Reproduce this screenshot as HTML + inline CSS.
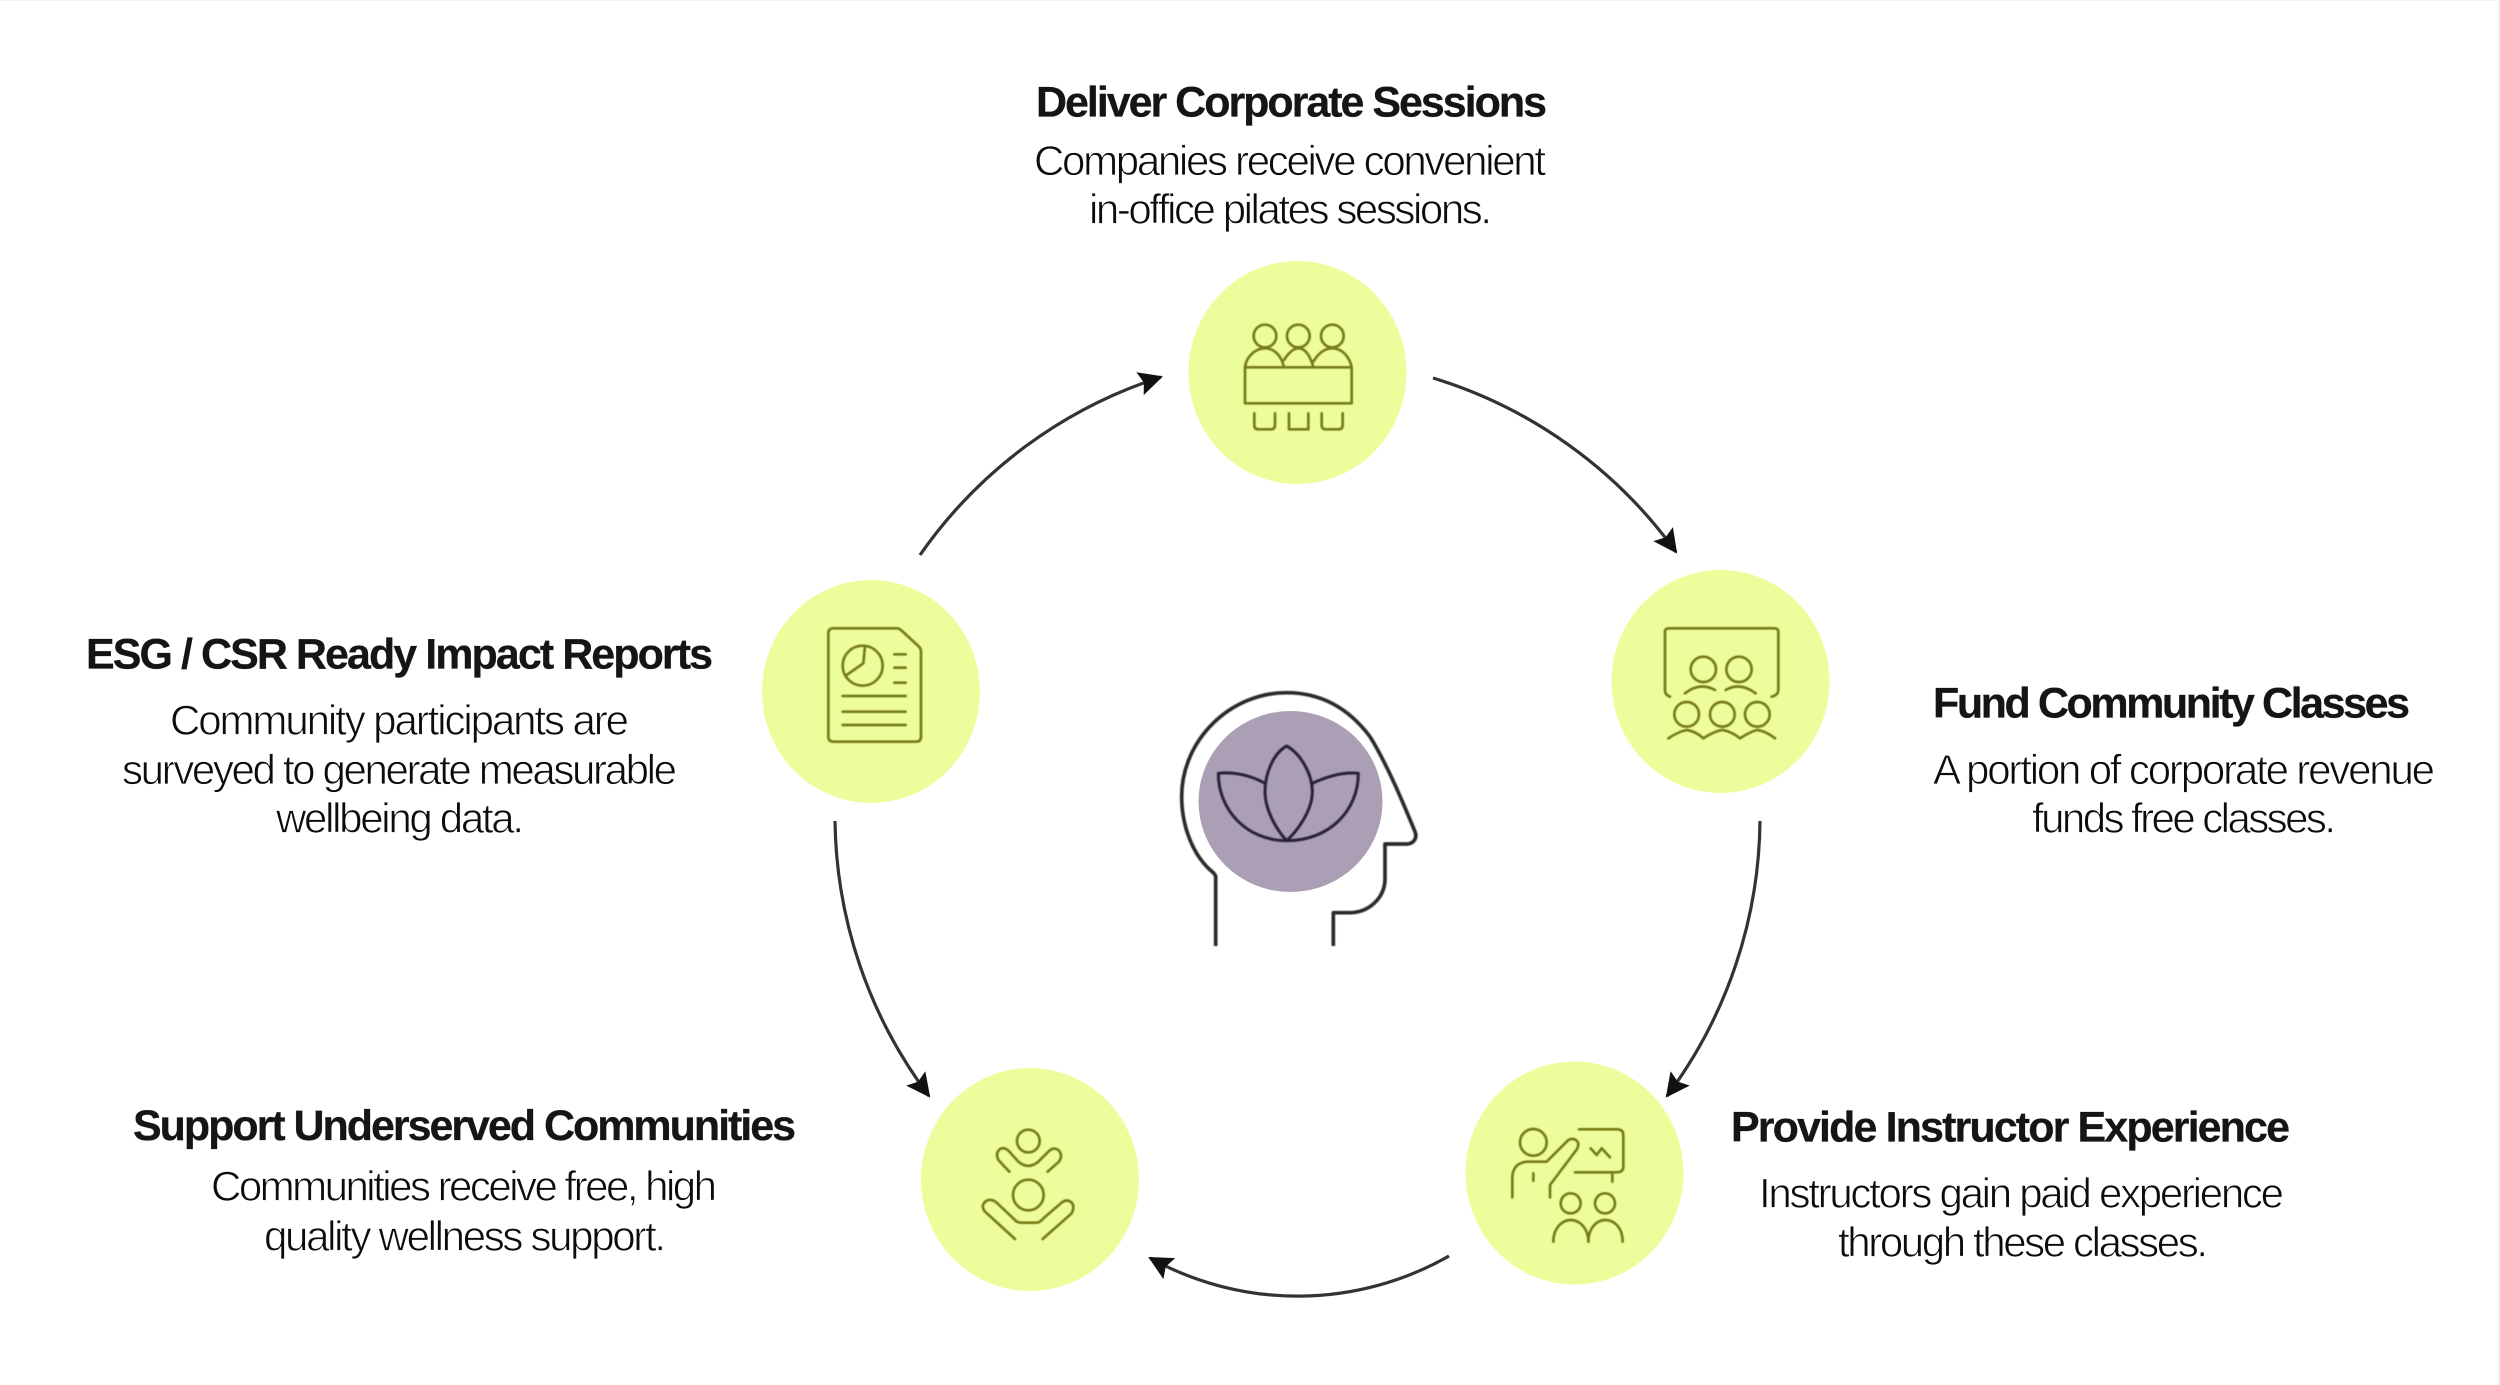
<!DOCTYPE html>
<html>
<head>
<meta charset="utf-8">
<style>
html,body{margin:0;padding:0;background:#fff;width:2500px;height:1385px;overflow:hidden}
svg{display:block}
text{font-family:"Liberation Sans",sans-serif;fill:#151515}
.h{font-size:43px;font-weight:700;stroke:#151515;stroke-width:.25}
.b{font-size:42px;font-weight:400;stroke:#fff;stroke-width:.8;fill:#0c0c0c}
.ic{fill:none;stroke:#767c16;stroke-width:8;stroke-linecap:round;stroke-linejoin:round;filter:url(#soft)}
.ar{fill:none;stroke:#333;stroke-width:3.2}
</style>
</head>
<body>
<svg width="2500" height="1385" viewBox="0 0 2500 1385" xmlns="http://www.w3.org/2000/svg">
<defs>
<filter id="soft" x="-5%" y="-5%" width="110%" height="110%"><feGaussianBlur stdDeviation="1.2"/></filter>
<marker id="a" viewBox="0 0 24 24" refX="22" refY="12" markerWidth="24" markerHeight="24" markerUnits="userSpaceOnUse" orient="auto">
<path d="M0,0 L24,12 L0,24 L4,12 z" fill="#111"/>
</marker>
</defs>
<rect width="2500" height="1385" fill="#fff"/>
<rect x="0" y="0" width="2500" height="1" fill="#f2f2f2"/>
<rect x="2498" y="0" width="2" height="1385" fill="#f2f2f2"/>

<!-- arrows -->
<path class="ar" marker-end="url(#a)" d="M920,555 A467,467 0 0 1 1161,377"/>
<path class="ar" marker-end="url(#a)" d="M1433,378 A467,467 0 0 1 1676,552"/>
<path class="ar" marker-end="url(#a)" d="M1760,821 A467,467 0 0 1 1667,1096"/>
<path class="ar" marker-end="url(#a)" d="M1449,1256 A305,305 0 0 1 1150,1258"/>
<path class="ar" marker-end="url(#a)" d="M835,821 A467,467 0 0 0 929,1096"/>

<!-- circles -->
<ellipse cx="1297.5" cy="372.5" rx="109" ry="111.5" fill="#eefd9c"/>
<ellipse cx="1720.5" cy="681.5" rx="109" ry="111.5" fill="#eefd9c"/>
<ellipse cx="1574.5" cy="1173" rx="109" ry="111.5" fill="#eefd9c"/>
<ellipse cx="1030" cy="1179.5" rx="109" ry="111.5" fill="#eefd9c"/>
<ellipse cx="871" cy="691.5" rx="109" ry="111.5" fill="#eefd9c"/>
<ellipse cx="1290.5" cy="801.5" rx="92" ry="90.5" fill="#ab9fb5"/>

<!-- head + lotus -->
<g transform="translate(1150,670) scale(.33333)" fill="none" stroke-linejoin="round" filter="url(#soft)">
<path stroke="#2b2b2b" stroke-width="11" d="M197,828 V618 L190,608 C130,560 95,470 95,380 C95,210 240,68 410,68 C520,68 600,120 660,200 C710,280 760,400 795,485 C803,505 790,522 770,522 H705 V625 C705,690 650,728 600,728 H550 V828"/>
<g stroke="#2a2038" stroke-width="9">
<path d="M410,228 C370,250 345,310 345,365 C345,420 380,480 410,512 C445,480 487,420 487,365 C487,310 450,250 410,228 Z"/>
<path d="M345,340 C300,315 250,305 205,310 C205,420 290,512 410,512"/>
<path d="M487,340 C530,320 580,305 625,310 C625,420 540,512 410,512"/>
</g>
</g>

<!-- icon 1 -->
<g class="ic" transform="translate(1150,230) scale(.33333)">
<circle cx="345" cy="318" r="34"/><circle cx="445" cy="318" r="34"/><circle cx="547" cy="318" r="34"/>
<path d="M285,410 C290,380 315,355 345,355 C375,355 395,380 402,412"/>
<path d="M402,390 C415,370 430,355 445,355 C465,355 480,375 490,412"/>
<path d="M490,395 C505,370 525,355 547,355 C580,355 600,385 605,412"/>
<rect x="285" y="412" width="320" height="108"/>
<path d="M313,550 V585 Q313,598 325,598 H362 Q375,598 375,585 V550"/>
<path d="M417,550 V598 H475 V550"/>
<path d="M515,550 V585 Q515,598 528,598 H565 Q578,598 578,585 V550"/>
</g>

<!-- icon 2 -->
<g class="ic" transform="translate(1590,550) scale(.33333)">
<path d="M240,440 Q225,435 225,420 V245 Q225,235 238,235 H552 Q565,235 565,245 V420 Q565,435 545,440"/>
<circle cx="340" cy="358" r="38"/><circle cx="447" cy="358" r="38"/>
<path d="M285,430 Q330,395 375,420"/><path d="M407,420 Q450,395 497,430"/>
<circle cx="290" cy="493" r="37"/><circle cx="397" cy="493" r="37"/><circle cx="502" cy="493" r="37"/>
<path d="M235,565 Q265,545 290,540 Q320,545 340,565 Q370,545 397,540 Q425,545 450,565 Q480,545 502,540 Q530,545 555,565"/>
</g>

<!-- icon 3 -->
<g class="ic" transform="translate(1440,1040) scale(.33333)">
<circle cx="280" cy="307" r="40"/>
<path d="M217,472 V415 Q217,370 260,365 H320 L385,300 Q405,290 415,310 Q415,325 405,335 L330,435 V472"/>
<path d="M280,400 V422"/>
<path d="M417,268 H530 Q550,268 550,285 V380 Q550,397 530,397 H405"/>
<path d="M517,397 V425"/>
<path d="M452,325 L470,345 L485,325 L510,352"/>
<circle cx="392" cy="490" r="30"/><circle cx="495" cy="490" r="30"/>
<path d="M340,605 C340,565 365,540 392,540 C420,540 445,565 445,605"/>
<path d="M445,605 C445,565 470,540 495,540 C525,540 548,565 548,605"/>
</g>

<!-- icon 4 -->
<g class="ic" transform="translate(890,1050) scale(.33333)">
<circle cx="415" cy="273" r="34"/>
<path d="M358,365 L325,330 Q315,310 330,297 Q345,290 358,305 L385,335 Q415,360 445,335 L475,305 Q490,290 505,300 Q520,315 507,335 L473,365"/>
<circle cx="415" cy="435" r="46"/>
<path d="M375,567 L285,485 Q270,465 290,452 Q305,445 320,458 L375,510 Q380,518 395,518 H440 Q450,518 460,505 L515,458 Q530,445 545,458 Q555,470 545,490 L458,567"/>
</g>

<!-- icon 5 -->
<g class="ic" transform="translate(740,560) scale(.33333)">
<path d="M280,205 H470 Q478,205 485,212 L535,258 Q543,265 543,275 V530 Q543,545 528,545 H280 Q265,545 265,530 V220 Q265,205 280,205 Z"/>
<circle cx="368" cy="317" r="60"/>
<path d="M375,258 L370,310 L320,345"/>
<path d="M463,283 H497 M463,323 H497 M463,368 H497"/>
<path d="M308,408 H497 M308,455 H497 M308,495 H497"/>
</g>

<!-- text -->
<text class="h" x="1036" y="116.5" textLength="511">Deliver Corporate Sessions</text>
<text class="b" x="1034" y="175" textLength="512">Companies receive convenient</text>
<text class="b" x="1089" y="223.5" textLength="403">in-office pilates sessions.</text>

<text class="h" x="86" y="668.5" textLength="627">ESG / CSR Ready Impact Reports</text>
<text class="b" x="170" y="734.5" textLength="459">Community participants are</text>
<text class="b" x="122" y="784" textLength="555">surveyed to generate measurable</text>
<text class="b" x="276" y="832.5" textLength="248">wellbeing data.</text>

<text class="h" x="1933" y="717.5" textLength="477">Fund Community Classes</text>
<text class="b" x="1933" y="784" textLength="502">A portion of corporate revenue</text>
<text class="b" x="2032" y="832.5" textLength="304">funds free classes.</text>

<text class="h" x="1731" y="1141.5" textLength="559">Provide Instructor Experience</text>
<text class="b" x="1759" y="1207.5" textLength="525">Instructors gain paid experience</text>
<text class="b" x="1838" y="1256.5" textLength="370">through these classes.</text>

<text class="h" x="133" y="1140" textLength="663">Support Underserved Communities</text>
<text class="b" x="211" y="1200.5" textLength="506">Communities receive free, high</text>
<text class="b" x="264" y="1250.5" textLength="402">quality wellness support.</text>
</svg>
</body>
</html>
